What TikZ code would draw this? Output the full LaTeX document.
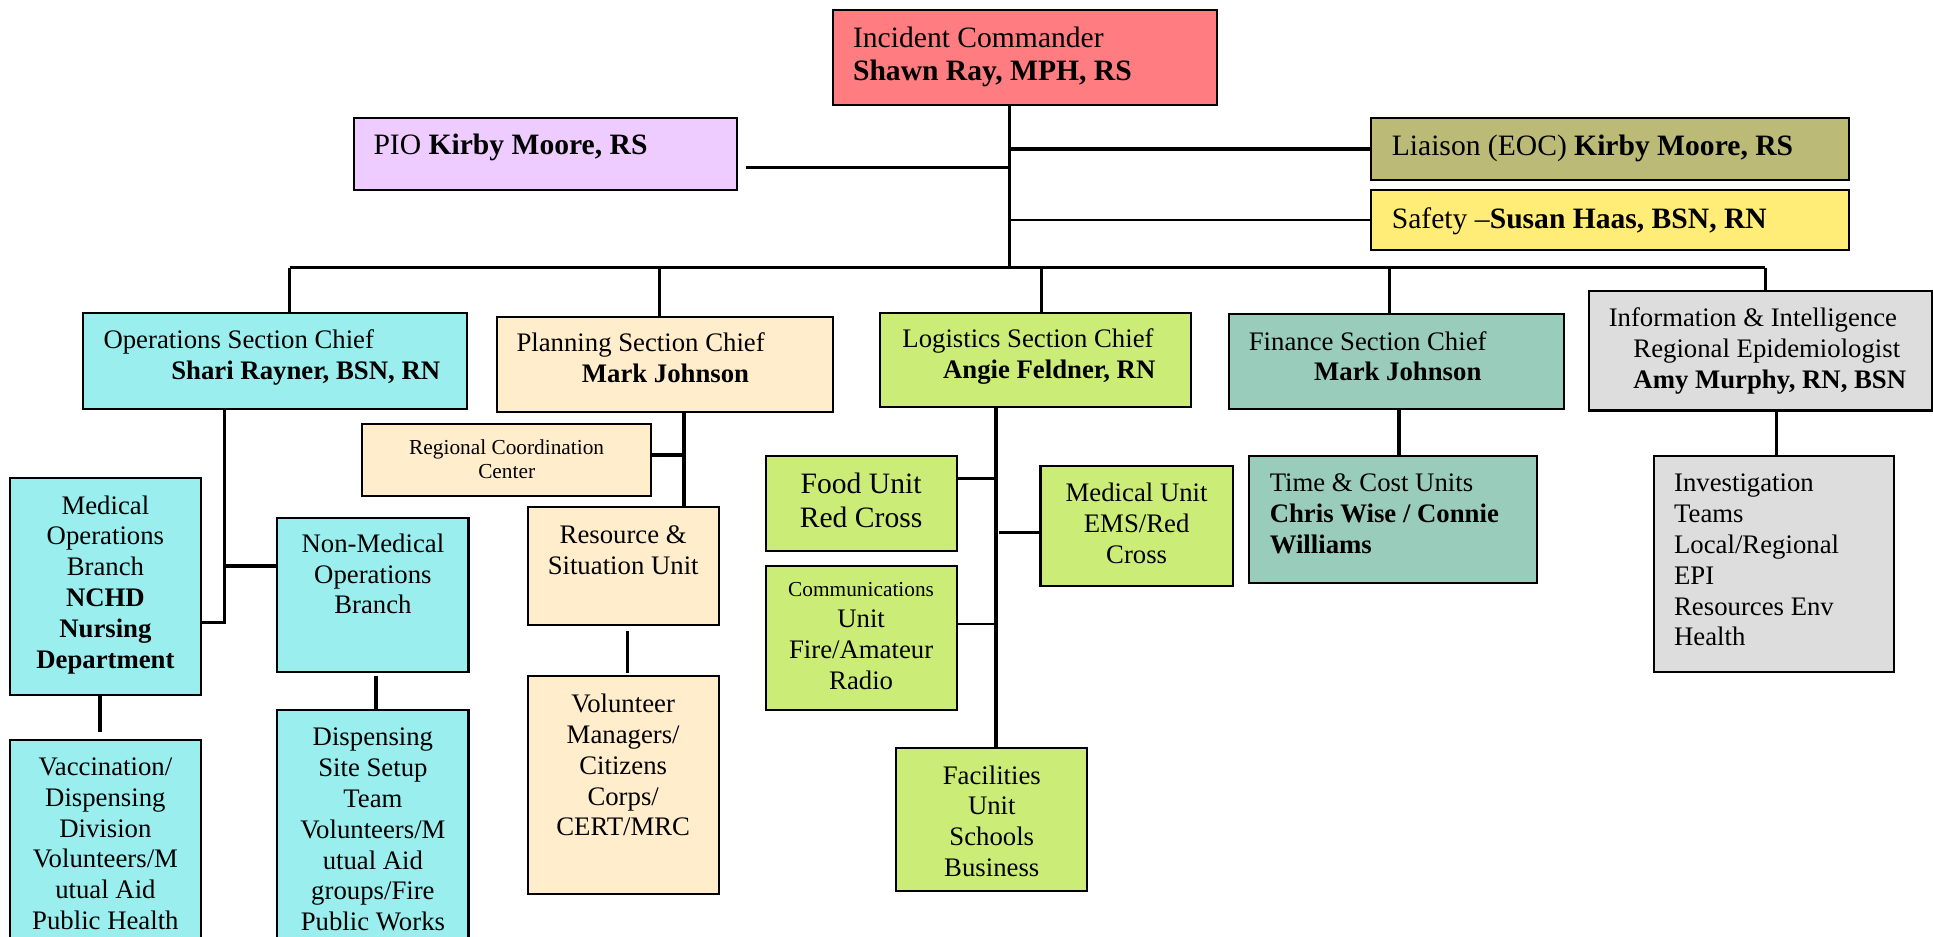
\documentclass[tikz,border=0pt]{standalone}
\usepackage{fontspec}
\setmainfont{Liberation Serif}
\definecolor{icred}{RGB}{255,124,128}
\definecolor{piolav}{RGB}{238,204,255}
\definecolor{liaol}{RGB}{187,187,119}
\definecolor{safey}{RGB}{255,237,120}
\definecolor{opscy}{RGB}{154,238,238}
\definecolor{planpe}{RGB}{255,237,204}
\definecolor{loggr}{RGB}{204,236,120}
\definecolor{finte}{RGB}{153,204,187}
\definecolor{infgr}{RGB}{221,221,221}
\newcommand\fA{\fontsize{21.7}{25}\selectfont}
\newcommand\fB{\fontsize{24}{27}\selectfont}
\newcommand\fC{\fontsize{17.3}{20}\selectfont}
\begin{document}
\begin{tikzpicture}[x=1pt,y=-1pt,
  box/.style={draw=black,line width=1.7pt,rectangle,inner sep=0pt,outer sep=0pt},
  txt/.style={inner sep=0pt,outer sep=0pt,font=\fA},
  ltxt/.style={txt,align=left,anchor=north west},
  ctxt/.style={txt,align=center,anchor=north},
  lnk/.style={line width=2pt},
  thk/.style={line width=3pt}]
\useasboundingbox (0,0) rectangle (1568,760);

% ---------- boxes ----------
\node[box,fill=icred,minimum width=311pt,minimum height=77pt] (IC) at (831.5,46.5) {};
\node[box,fill=piolav,minimum width=311pt,minimum height=58pt] (PIO) at (442.5,125) {};
\node[box,fill=liaol,minimum width=388pt,minimum height=50pt] (Liaison) at (1306,121) {};
\node[box,fill=safey,minimum width=388pt,minimum height=49pt] (Safety) at (1306,178.5) {};
\node[box,fill=opscy,minimum width=312pt,minimum height=78pt] (Ops) at (223,293) {};
\node[box,fill=planpe,minimum width=273pt,minimum height=77pt] (Plan) at (539.5,295.5) {};
\node[box,fill=loggr,minimum width=252pt,minimum height=76pt] (Log) at (840,292) {};
\node[box,fill=finte,minimum width=272pt,minimum height=77pt] (Fin) at (1133,293.5) {};
\node[box,fill=infgr,minimum width=278pt,minimum height=97pt] (Info) at (1428,284.5) {};
\node[box,fill=opscy,minimum width=155pt,minimum height=176pt] (MedOps) at (85.5,476) {};
\node[box,fill=opscy,minimum width=155pt,minimum height=125pt] (NonMed) at (302.5,482.5) {};
\node[box,fill=opscy,minimum width=155pt,minimum height=175pt] (Vacc) at (85.5,687.5) {};
\node[box,fill=opscy,minimum width=155pt,minimum height=199pt] (Disp) at (302.5,675.5) {};
\node[box,fill=planpe,minimum width=234pt,minimum height=58pt] (RCC) at (411,373) {};
\node[box,fill=planpe,minimum width=155pt,minimum height=96pt] (Res) at (505.5,459) {};
\node[box,fill=planpe,minimum width=155pt,minimum height=177pt] (Vol) at (505.5,636.5) {};
\node[box,fill=loggr,minimum width=155pt,minimum height=77pt] (Food) at (698.5,408.5) {};
\node[box,fill=loggr,minimum width=155pt,minimum height=117pt] (Comm) at (698.5,517.5) {};
\node[box,fill=loggr,minimum width=156pt,minimum height=97pt] (MedU) at (922,426.5) {};
\node[box,fill=loggr,minimum width=155pt,minimum height=116pt] (Fac) at (804.5,665) {};
\node[box,fill=finte,minimum width=234pt,minimum height=103pt] (Time) at (1130,421.5) {};
\node[box,fill=infgr,minimum width=194pt,minimum height=175pt] (Inv) at (1439,457.5) {};

% ---------- connectors ----------
\coordinate (t0) at (819,217);
\coordinate (pioL) at (605,136);
\draw[lnk] (IC.south -| t0) -- (t0);
\draw[lnk] (pioL) -- (pioL -| t0);
\draw[thk] (Liaison.west -| t0) -- (Liaison.west);
\draw[lnk] (Safety.west -| t0) -- (Safety.west);
\coordinate (b1) at (235,217);
\coordinate (b2) at (535,217);
\coordinate (b3) at (845,217);
\coordinate (b4) at (1127,217);
\coordinate (b5) at (1432,217);
\draw[lnk] (b1) -- (b5);
\draw[lnk] (b1) -- (b1 |- Ops.north);
\draw[thk] (b2) -- (b2 |- Plan.north);
\draw[lnk] (b3) -- (b3 |- Log.north);
\draw[lnk] (b4) -- (b4 |- Fin.north);
\draw[lnk] (b5) -- (b5 |- Info.north);
% operations
\coordinate (o1) at (182,505);
\coordinate (o2) at (182,459);
\draw[lnk] (Ops.south -| o1) -- (o1) -- (o1 -| MedOps.east);
\draw[thk] (o2) -- (o2 -| NonMed.west);
\coordinate (m1) at (81,594);
\draw[thk] (MedOps.south -| m1) -- (m1);
\coordinate (n1) at (305,548);
\draw[thk] (n1) -- (Disp.north -| n1);
% planning
\coordinate (p1) at (555,369);
\draw[thk] (Plan.south -| p1) -- (Res.north -| p1);
\draw[thk] (RCC.east |- p1) -- (p1);
\coordinate (r1) at (509,512);
\draw[thk] (r1) -- ([yshift=2pt]Vol.north -| r1);
% logistics
\coordinate (g1) at (808,388);
\coordinate (g2) at (808,506);
\coordinate (g3) at (810,432);
\draw[thk] (Log.south -| g1) -- (Fac.north -| g1);
\draw[lnk] (Food.east |- g1) -- (g1);
\draw[lnk] (Comm.east |- g2) -- (g2);
\draw[lnk] (g3) -- (g3 -| MedU.west);
% finance / info
\coordinate (f1) at (1135,350);
\draw[thk] (Fin.south -| f1) -- (Time.north -| f1);
\coordinate (i1) at (1441,350);
\draw[lnk] (Info.south -| i1) -- (Inv.north -| i1);

% ---------- texts ----------
\node[ltxt,font=\fB] (tIC) at (692,19.6) {\strut Incident Commander\\\textbf{Shawn Ray, MPH, RS}};
\node[ltxt,font=\fB] (tPIO) at (303,106.6) {\strut PIO \textbf{Kirby Moore, RS}};
\node[ltxt,font=\fB] (tLia) at (1129,107.6) {\strut Liaison (EOC) \textbf{Kirby Moore, RS}};
\node[ltxt,font=\fB] (tSaf) at (1129,166.6) {\strut Safety –\textbf{Susan Haas, BSN, RN}};
\node[ltxt] (tOps) at (84,265.5) {\strut Operations Section Chief\\\hspace*{55pt}\textbf{Shari Rayner, BSN, RN}};
\node[ltxt] (tPlan) at (419,267.5) {\strut Planning Section Chief\\\hspace*{53pt}\textbf{Mark Johnson}};
\node[ltxt] (tLog) at (732,264.5) {\strut Logistics Section Chief\\\hspace*{33pt}\textbf{Angie Feldner, RN}};
\node[ltxt] (tFin) at (1013,266.5) {\strut Finance Section Chief\\\hspace*{53pt}\textbf{Mark Johnson}};
\node[ltxt] (tInfo) at (1305,247.5) {\strut Information \& Intelligence\\\hspace*{20pt}Regional Epidemiologist\\\hspace*{20pt}\textbf{Amy Murphy, RN, BSN}};
\node[ltxt] (tTime) at (1030,381.5) {\strut Time \& Cost Units\\\textbf{Chris Wise / Connie}\\\textbf{Williams}};
\node[ltxt] (tInv) at (1358,381.5) {\strut Investigation\\Teams\\Local/Regional\\EPI\\Resources Env\\Health};

\node[ctxt] (tMedOps) at (85.5,399.5) {\strut Medical\\Operations\\Branch\\\textbf{NCHD}\\\textbf{Nursing}\\\textbf{Department}};
\node[ctxt] (tNonMed) at (302.5,430.5) {\strut Non-Medical\\Operations\\Branch};
\node[ctxt] (tVacc) at (85.5,611.5) {\strut Vaccination/\\Dispensing\\Division\\Volunteers/M\\utual Aid\\Public Health};
\node[ctxt] (tDisp) at (302.5,587.5) {\strut Dispensing\\Site Setup\\Team\\Volunteers/M\\utual Aid\\groups/Fire\\Public Works};
\node[ctxt,font=\fC] (tRCC) at (411,354.5) {\strut Regional Coordination\\Center};
\node[ctxt] (tRes) at (505.5,423.5) {\strut Resource \&\\Situation Unit};
\node[ctxt] (tVol) at (505.5,560.5) {\strut Volunteer\\Managers/\\Citizens\\Corps/\\CERT/MRC};
\node[ctxt,font=\fB] (tFood) at (698.5,381.6) {\strut Food Unit\\Red Cross};
\node[ctxt,font=\fC] (tComm1) at (698.5,469.5) {\strut Communications};
\node[ctxt] (tComm2) at (698.5,491.5) {\strut Unit\\Fire/Amateur\\Radio};
\node[ctxt] (tMedU) at (922,389.5) {\strut Medical Unit\\EMS/Red\\Cross};
\node[ctxt] (tFac) at (804.5,618.5) {\strut Facilities\\Unit\\Schools\\Business};
\end{tikzpicture}
\end{document}
